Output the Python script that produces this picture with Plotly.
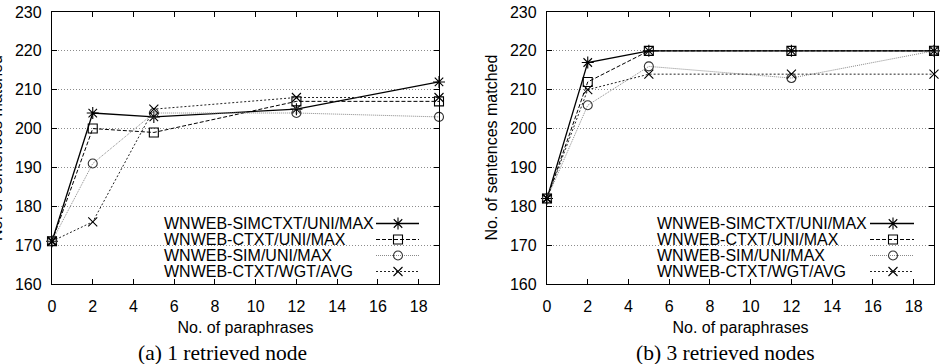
import plotly.graph_objects as go

# ---------------- data ----------------
x_vals = [0, 2, 5, 12, 19]
series_names = ["WNWEB-SIMCTXT/UNI/MAX", "WNWEB-CTXT/UNI/MAX",
                "WNWEB-SIM/UNI/MAX", "WNWEB-CTXT/WGT/AVG"]
node1_simctxt = [171, 204, 203, 205, 212]
node1_ctxt = [171, 200, 199, 207, 207]
node1_sim = [171, 191, 204, 204, 203]
node1_wgt = [171, 176, 205, 208, 208]
node3_simctxt = [182, 217, 220, 220, 220]
node3_ctxt = [182, 212, 220, 220, 220]
node3_sim = [182, 206, 216, 213, 220]
node3_wgt = [182, 210, 214, 214, 214]
x_ticks = list(range(0, 19, 2))
y_ticks = list(range(160, 231, 10))
captions = ["(a) 1 retrieved node", "(b) 3 retrieved nodes"]
x_title = "No. of paraphrases"
y_title = "No. of sentences matched"

panels = [[node1_simctxt, node1_ctxt, node1_sim, node1_wgt],
          [node3_simctxt, node3_ctxt, node3_sim, node3_wgt]]

# ---------------- styles ----------------
W, H = 940, 364
styles = [
    dict(color="black", dash="solid", width=1.3, symbol="asterisk-open", msize=10, mcolor="black"),
    dict(color="black", dash="4px,2px", width=1.0, symbol="square-open", msize=9, mcolor="black"),
    dict(color="#8a8a8a", dash="1px,1px", width=1.0, symbol="circle-open", msize=9, mcolor="#333333"),
    dict(color="#222222", dash="2px,2px", width=1.0, symbol="x-thin-open", msize=9, mcolor="black"),
]
SANS = "Liberation Sans, Arial, sans-serif"
SERIF = "Liberation Serif, Times New Roman, serif"
FS = 16

# pixel geometry of the two plot areas
px_left = [(52, 439), (547, 934)]
py_top, py_bot = 12, 284
ydom = [1 - py_bot / H, 1 - py_top / H]

fig = go.Figure()
axnames = [("x", "y"), ("x2", "y2")]
for p, series in enumerate(panels):
    xa, ya = axnames[p]
    for s, (name, yv) in enumerate(zip(series_names, series)):
        st = styles[s]
        fig.add_trace(go.Scatter(
            x=x_vals, y=yv, name=name, mode="lines+markers", xaxis=xa, yaxis=ya,
            showlegend=False,
            line=dict(color=st["color"], dash=st["dash"], width=st["width"]),
            marker=dict(symbol=st["symbol"], size=st["msize"], color=st["mcolor"],
                        line=dict(color=st["mcolor"], width=1.1)),
            cliponaxis=False))

axis_common = dict(showline=True, linecolor="black", linewidth=1.3, mirror="allticks",
                   ticks="inside", ticklen=5, tickcolor="black", tickwidth=1,
                   zeroline=False, tickfont=dict(family=SANS, size=FS, color="black"),
                   title_font=dict(family=SANS, size=FS, color="black"))

layout_axes = {}
for p in range(2):
    xl, xr = px_left[p]
    xk = "xaxis" if p == 0 else "xaxis2"
    yk = "yaxis" if p == 0 else "yaxis2"
    layout_axes[xk] = dict(axis_common, domain=[xl / W, xr / W], range=[0, 19],
                           tickvals=x_ticks, showgrid=False,
                           anchor="y" if p == 0 else "y2",
                           title=dict(text=x_title, standoff=7),
                           ticklabelstandoff=8)
    layout_axes[yk] = dict(axis_common, domain=ydom, range=[160, 230],
                           tickvals=y_ticks, showgrid=True, gridcolor="#8c8c8c",
                           griddash="1px,2px", gridwidth=1,
                           anchor="x" if p == 0 else "x2",
                           ticklabelstandoff=6)

# overlay pixel-space axes for the gnuplot-style key (sample to the right of text)
layout_axes["xaxis3"] = dict(domain=[0, 1], range=[0, W], visible=False, anchor="y3")
layout_axes["yaxis3"] = dict(domain=[0, 1], range=[H, 0], visible=False, anchor="x3")

legend_rows = [223.5, 239.5, 255.5, 271.5]
legend_text_left = [163, 656]
legend_line = [(376, 398, 419), (870, 893, 914)]
annotations = []
shapes = []
for p in range(2):
    l0, lm, l1 = legend_line[p]
    for s, name in enumerate(series_names):
        st = styles[s]
        yy = legend_rows[s]
        fig.add_trace(go.Scatter(
            x=[l0, lm, l1], y=[yy, yy, yy], mode="lines+markers", xaxis="x3", yaxis="y3",
            showlegend=False, hoverinfo="skip",
            line=dict(color=st["color"], dash=st["dash"], width=st["width"]),
            marker=dict(symbol=st["symbol"], size=st["msize"], color=st["mcolor"],
                        opacity=[0, 1, 0], line=dict(color=st["mcolor"], width=1.1))))
        annotations.append(dict(x=legend_text_left[p] / W, y=1 - yy / H, xref="paper", yref="paper",
                                text=name, showarrow=False, xanchor="left", yanchor="middle",
                                borderpad=0,
                                font=dict(family=SANS, size=FS, color="black")))
    # white key box that interrupts the grid
    xr = "x domain" if p == 0 else "x2 domain"
    yr = "y domain" if p == 0 else "y2 domain"
    box_x = [(0.279, 0.977), (0.279, 0.956)][p]
    shapes.append(dict(type="rect", xref=xr, yref=yr, x0=box_x[0], x1=box_x[1],
                       y0=0.015, y1=0.25, fillcolor="white", line=dict(width=0), layer="below"))

# y-axis titles (left one partly outside the page, as in the reference)
ytitle_x = [-4, 490.5]
for p in range(2):
    annotations.append(dict(x=ytitle_x[p] / W, y=1 - 148 / H, xref="paper", yref="paper",
                            text=y_title, textangle=-90, showarrow=False,
                            xanchor="center", yanchor="middle", borderpad=0,
                            font=dict(family=SANS, size=FS, color="black")))

caption_x = [222, 725]
for p in range(2):
    annotations.append(dict(x=caption_x[p] / W, y=1 - 353 / H, xref="paper", yref="paper",
                            text=captions[p], showarrow=False, xanchor="center", yanchor="middle",
                            borderpad=0,
                            font=dict(family=SERIF, size=21.5, color="black")))

fig.update_layout(
    width=W, height=H, margin=dict(l=0, r=0, t=0, b=0, autoexpand=False),
    paper_bgcolor="white", plot_bgcolor="rgba(0,0,0,0)",
    showlegend=False, annotations=annotations, shapes=shapes,
    **layout_axes)

fig.write_html("out.html")
